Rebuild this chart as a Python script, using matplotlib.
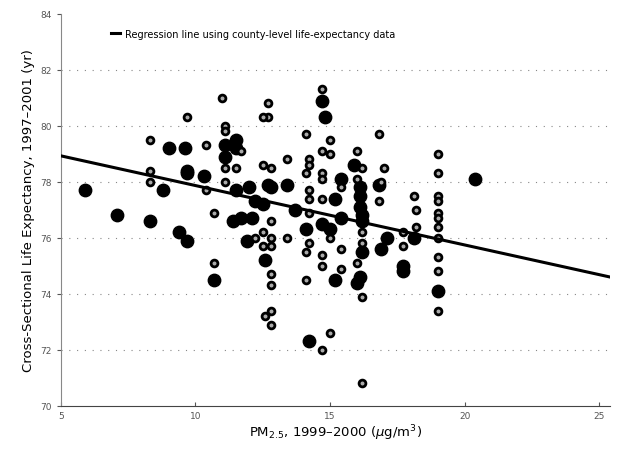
import numpy as np
import matplotlib.pyplot as plt

# Large (filled) county points: PM2.5 and life expectancy
big_pm = [5.9, 7.1, 8.3, 8.8, 9.0, 9.4, 9.7, 9.6, 9.7, 9.7, 10.3, 10.7,
          11.1, 11.1, 11.5, 11.5, 11.5, 11.7, 11.4, 12.0, 12.1, 11.9, 12.2,
          12.5, 12.6, 12.7, 12.8, 13.4, 13.7, 14.1, 14.2, 14.7, 14.8, 14.7,
          15.2, 15.0, 15.4, 15.4, 15.2, 15.9, 16.1, 16.1, 16.1, 16.2, 16.2,
          16.2, 16.1, 16.0, 16.8, 17.1, 16.9, 17.7, 17.7, 18.1, 19.0, 20.4]
big_le = [77.7, 76.8, 76.6, 77.7, 79.2, 76.2, 75.9, 79.2, 78.4, 78.3, 78.2,
          74.5, 79.3, 78.9, 79.5, 79.2, 77.7, 76.7, 76.6, 77.8, 76.7, 75.9,
          77.3, 77.2, 75.2, 77.9, 77.8, 77.9, 77.0, 76.3, 72.3, 80.9, 80.3,
          76.5, 77.4, 76.3, 78.1, 76.7, 74.5, 78.6, 77.8, 77.5, 77.1, 76.8,
          76.6, 75.5, 74.6, 74.4, 77.9, 76.0, 75.6, 75.0, 74.8, 76.0, 74.1,
          78.1]

# Small (ring) county points
small_pm = [8.3, 8.3, 8.3, 9.7, 10.4, 10.4, 10.7, 10.7, 11.0, 11.1, 11.1,
            11.1, 11.1, 11.7, 11.5, 12.2, 12.5, 12.5, 12.5, 12.7, 12.5, 12.7,
            12.8, 12.8, 12.8, 12.8, 12.8, 12.8, 12.6, 12.8, 12.8, 13.4, 13.4,
            14.1, 14.2, 14.2, 14.1, 14.2, 14.2, 14.2, 14.2, 14.1, 14.1, 14.7,
            14.7, 14.7, 14.7, 14.7, 14.7, 14.7, 14.7, 15.0, 15.0, 15.0, 15.0,
            15.4, 15.4, 15.4, 16.0, 16.2, 16.0, 16.2, 16.2, 16.0, 16.2, 16.2,
            16.8, 17.0, 16.9, 16.8, 17.7, 17.7, 18.1, 18.2, 18.2, 19.0, 19.0,
            19.0, 19.0, 19.0, 19.0, 19.0, 19.0, 19.0, 19.0, 19.0]
small_le = [79.5, 78.4, 78.0, 80.3, 79.3, 77.7, 76.9, 75.1, 81.0, 80.0, 79.8,
            78.5, 78.0, 79.1, 78.5, 76.0, 78.6, 75.7, 76.2, 80.3, 80.3, 80.8,
            78.5, 76.6, 76.0, 75.7, 74.7, 74.3, 73.2, 73.4, 72.9, 78.8, 76.0,
            79.7, 78.8, 78.6, 78.3, 77.7, 77.4, 76.9, 75.8, 75.5, 74.5, 81.3,
            79.1, 78.3, 78.1, 77.4, 75.4, 75.0, 72.0, 79.5, 79.0, 76.0, 72.6,
            77.8, 75.6, 74.9, 79.1, 78.5, 78.1, 76.2, 75.8, 75.1, 73.9, 70.8,
            79.7, 78.5, 78.0, 77.3, 76.2, 75.7, 77.5, 77.0, 76.4, 79.0, 78.3,
            77.5, 77.3, 76.9, 76.7, 76.4, 76.0, 75.3, 74.8, 73.4]

# Regression line end points
reg_pm = [5.0, 25.4]
reg_le = [78.93, 74.6]

fig = plt.figure(figsize=(6.27, 4.52), dpi=100)
ax = fig.add_axes([0.097, 0.10, 0.876, 0.867])

for yv in [72, 74, 76, 78, 80, 82]:
    ax.axhline(yv, color='#888888', lw=0.8, ls=(0, (1, 6)), zorder=0)

ax.scatter(big_pm, big_le, s=80, c='black', edgecolors='black', zorder=3)
ax.scatter(small_pm, small_le, s=24, facecolors='#aaaaaa', edgecolors='black',
           linewidths=2.0, zorder=3)
ax.plot(reg_pm, reg_le, color='black', lw=2.2, zorder=4,
        label='Regression line using county-level life-expectancy data')

ax.set_xlim(5, 25.4)
ax.set_ylim(70, 84)
ax.set_xticks([5, 10, 15, 20, 25])
ax.set_yticks([70, 72, 74, 76, 78, 80, 82, 84])
ax.tick_params(axis='both', labelsize=6.5, colors='#555555', length=3)
ax.tick_params(axis='x', direction='in')
for s in ['top', 'right']:
    ax.spines[s].set_visible(False)
ax.spines['left'].set_color('#888888')
ax.spines['bottom'].set_color('#444444')

ax.set_xlabel('PM$_{2.5}$, 1999–2000 ($\\mu$g/m$^3$)', fontsize=9.5, labelpad=2)
ax.set_ylabel('Cross-Sectional Life Expectancy, 1997–2001 (yr)', fontsize=9.5,
              labelpad=4)
ax.legend(loc='upper left', bbox_to_anchor=(0.075, 0.985), frameon=False,
          fontsize=7, handlelength=1.0, handletextpad=0.5)

fig.savefig('out.png', dpi=100)
